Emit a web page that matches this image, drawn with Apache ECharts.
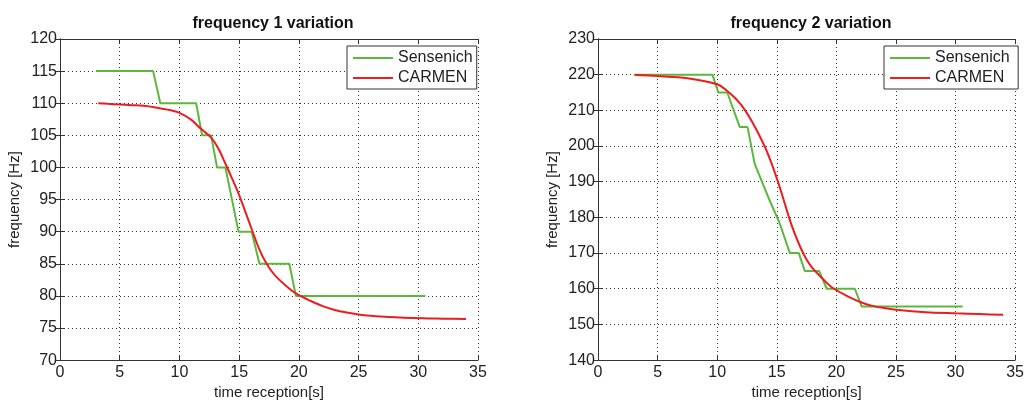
<!DOCTYPE html>
<html>
<head>
<meta charset="utf-8">
<title>frequency variation</title>
<script src="https://cdn.jsdelivr.net/npm/echarts@6/dist/echarts.min.js"></script>
<style>
  html, body { margin: 0; padding: 0; background: #fff; }
  #chart { width: 1027px; height: 405px; }
</style>
</head>
<body>
<div id="chart"></div>
<script>
  // frequency 1
  const sens1Time = [3.0, 7.8, 8.4, 11.4, 11.9, 12.65, 13.15, 13.85, 14.95, 16.05, 16.7, 19.2, 19.75, 30.6]
  const sens1Freq = [115, 115, 110, 110, 105, 105, 100, 100, 90, 90, 85, 85, 80, 80]
  const carmen1Time = [3.2, 4, 5, 6, 7, 8, 9, 10, 11, 11.75, 12.67, 13.3, 13.87, 14.4, 14.96, 15.5, 16.07, 16.7, 17.3, 18, 19.16, 20, 21, 22, 23, 24, 25, 26, 27.5, 30.4, 32, 34]
  const carmen1Freq = [110.0, 109.9, 109.8, 109.7, 109.6, 109.35, 109.0, 108.5, 107.4, 106.1, 104.6, 102.8, 100.5, 98.3, 95.9, 93.2, 90.3, 87.2, 85.0, 83.2, 81.2, 80.1, 79.2, 78.4, 77.8, 77.4, 77.1, 76.9, 76.7, 76.5, 76.45, 76.4]

  // frequency 2
  const sens2Time = [3.0, 9.6, 10.1, 10.85, 11.9, 12.55, 13.15, 14.4, 15.25, 16.1, 16.85, 17.35, 18.55, 19.2, 21.55, 22.13, 30.6]
  const sens2Freq = [220, 220, 215, 215, 205.3, 205.3, 195, 184.8, 178.3, 170, 170, 165, 165, 160, 160, 155, 155]
  const carmen2Time = [3.1, 5, 7.5, 10, 11, 12, 13, 14, 14.5, 15, 15.5, 16, 16.5, 17, 17.5, 18, 19, 19.7, 21, 22, 23, 24, 25, 27.5, 30, 32, 34]
  const carmen2Freq = [219.9, 219.6, 219.0, 217.3, 215.0, 211.6, 206.4, 199.8, 195.7, 191.0, 185.8, 180.3, 175.5, 171.5, 168.2, 165.8, 162.3, 160.2, 157.8, 156.3, 155.2, 154.6, 154.1, 153.4, 153.1, 152.9, 152.7]

  const xTicks = { min: 0, max: 35, interval: 5 }
  const y1Ticks = { min: 70, max: 120, interval: 5 }
  const y2Ticks = { min: 140, max: 230, interval: 10 }

  const FONT = "'Liberation Sans', Arial, sans-serif"
  const GREEN = '#5cb83c'
  const RED = '#ee1c1c'

  const pairs = (xs, ys) => xs.map((x, i) => [x, ys[i]])

  function mainX(gridIndex) {
    return {
      type: 'value', gridIndex: gridIndex, position: 'bottom',
      min: xTicks.min, max: xTicks.max, interval: xTicks.interval,
      name: 'time reception[s]', nameLocation: 'middle', nameGap: 24,
      nameTextStyle: { fontFamily: FONT, fontSize: 15, color: '#222' },
      axisLine: { show: true, lineStyle: { color: '#333', width: 1 } },
      axisTick: { show: true, inside: true, length: 5, lineStyle: { color: '#333' } },
      axisLabel: { fontFamily: FONT, fontSize: 16, color: '#222', margin: 4 },
      splitLine: { show: true, lineStyle: { color: '#333', type: [1, 3], width: 1 } }
    }
  }
  function boxX(gridIndex) {
    return {
      type: 'value', gridIndex: gridIndex, position: 'top',
      min: xTicks.min, max: xTicks.max, interval: xTicks.interval,
      axisLine: { show: true, lineStyle: { color: '#333', width: 1 } },
      axisTick: { show: true, inside: true, length: 5, lineStyle: { color: '#333' } },
      axisLabel: { show: false },
      splitLine: { show: false }
    }
  }
  function mainY(gridIndex, t) {
    return {
      type: 'value', gridIndex: gridIndex, position: 'left',
      min: t.min, max: t.max, interval: t.interval,
      name: 'frequency [Hz]', nameLocation: 'middle', nameGap: 38,
      nameTextStyle: { fontFamily: FONT, fontSize: 15, color: '#222' },
      axisLine: { show: true, lineStyle: { color: '#333', width: 1 } },
      axisTick: { show: true, inside: true, length: 5, lineStyle: { color: '#333' } },
      axisLabel: { fontFamily: FONT, fontSize: 16, color: '#222', margin: 3 },
      splitLine: { show: true, lineStyle: { color: '#333', type: [1, 3], width: 1 } }
    }
  }
  function boxY(gridIndex, t) {
    return {
      type: 'value', gridIndex: gridIndex, position: 'right',
      min: t.min, max: t.max, interval: t.interval,
      axisLine: { show: true, lineStyle: { color: '#333', width: 1 } },
      axisTick: { show: true, inside: true, length: 5, lineStyle: { color: '#333' } },
      axisLabel: { show: false },
      splitLine: { show: false }
    }
  }
  function legendAt(left, names) {
    return {
      data: names, left: left, top: 46, orient: 'vertical',
      icon: 'rect', itemWidth: 40, itemHeight: 2, itemGap: 4,
      padding: [4, 4, 3, 6],
      backgroundColor: '#fff', borderColor: '#333', borderWidth: 1, borderRadius: 0,
      textStyle: { fontFamily: FONT, fontSize: 16, color: '#222', lineHeight: 16 }
    }
  }
  function lineSeries(name, color, xIdx, yIdx, data, smooth) {
    return {
      name: name, type: 'line', xAxisIndex: xIdx, yAxisIndex: yIdx,
      symbol: 'none', smooth: smooth, animation: false,
      lineStyle: { color: color, width: 2 },
      itemStyle: { color: color },
      data: data
    }
  }

  const chart = echarts.init(document.getElementById('chart'))
  chart.setOption({
    backgroundColor: '#fff',
    animation: false,
    title: [
      { text: 'frequency 1 variation', left: 268, top: 11, textAlign: 'center',
        textStyle: { fontFamily: FONT, fontSize: 16, fontWeight: 'bold', color: '#111' } },
      { text: 'frequency 2 variation', left: 806, top: 11, textAlign: 'center',
        textStyle: { fontFamily: FONT, fontSize: 16, fontWeight: 'bold', color: '#111' } }
    ],
    legend: [
      legendAt(347, ['Sensenich', 'CARMEN']),
      legendAt(884, ['Sensenich ', 'CARMEN '])
    ],
    grid: [
      { left: 60, right: 549, top: 39, bottom: 39, containLabel: false },
      { left: 598, right: 11, top: 39, bottom: 39, containLabel: false }
    ],
    xAxis: [mainX(0), boxX(0), mainX(1), boxX(1)],
    yAxis: [mainY(0, y1Ticks), boxY(0, y1Ticks), mainY(1, y2Ticks), boxY(1, y2Ticks)],
    series: [
      lineSeries('Sensenich', GREEN, 0, 0, pairs(sens1Time, sens1Freq), false),
      lineSeries('CARMEN', RED, 0, 0, pairs(carmen1Time, carmen1Freq), 0.3),
      lineSeries('Sensenich ', GREEN, 2, 2, pairs(sens2Time, sens2Freq), false),
      lineSeries('CARMEN ', RED, 2, 2, pairs(carmen2Time, carmen2Freq), 0.3)
    ]
  })
</script>
</body>
</html>
